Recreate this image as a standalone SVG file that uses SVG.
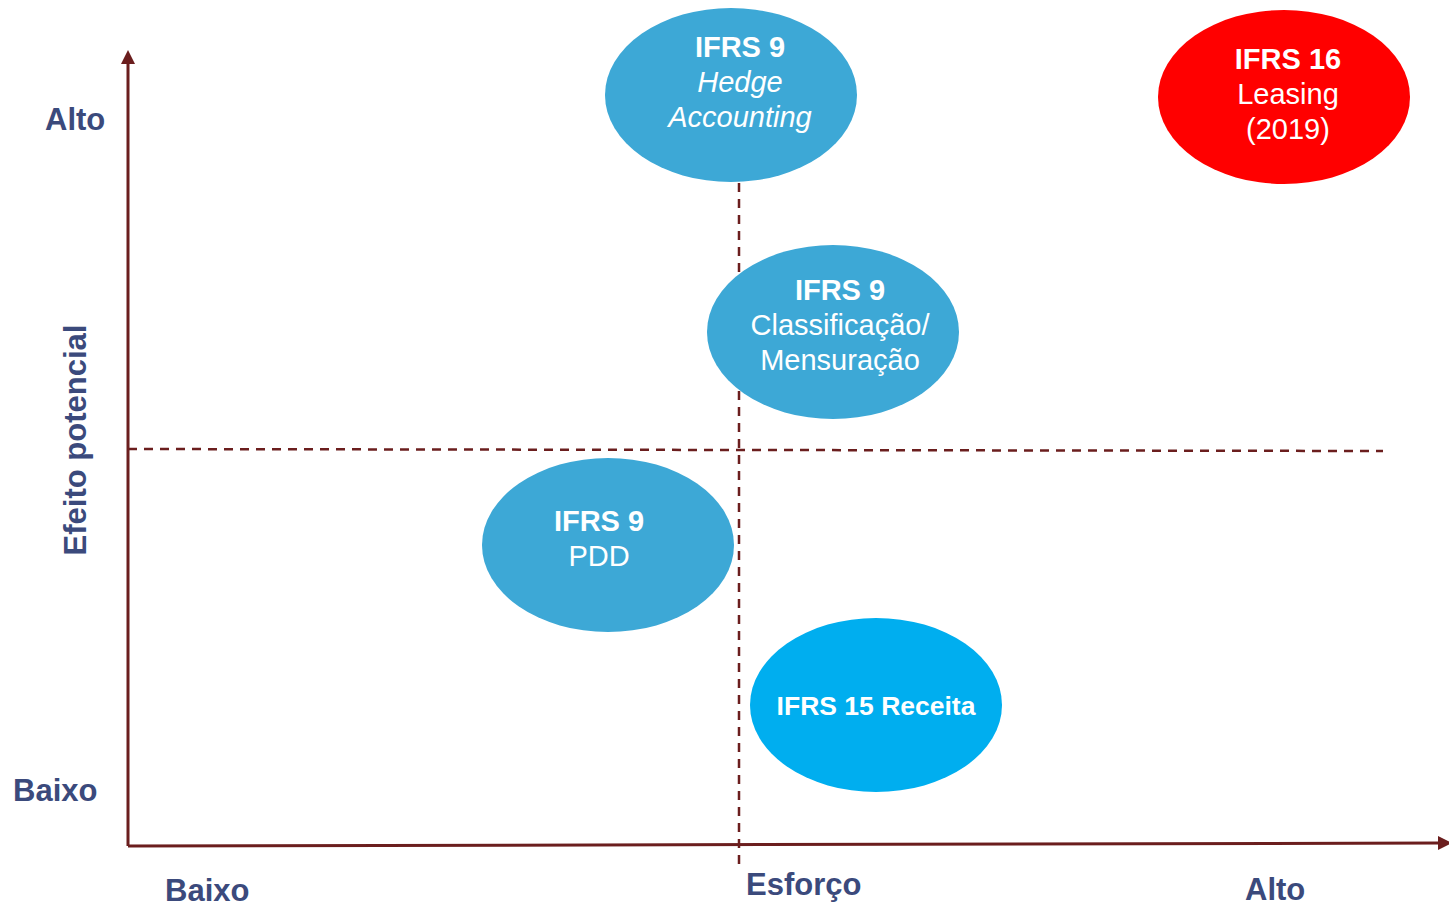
<svg xmlns="http://www.w3.org/2000/svg" width="1449" height="907" viewBox="0 0 1449 907">
<defs>
<style>
.ax{fill:#3B4A7C;font-family:"Liberation Sans",Arial,sans-serif;font-weight:bold;font-size:31px}
.t{fill:#fff;font-family:"Liberation Sans",Arial,sans-serif;font-size:29px;text-anchor:middle}
.b{font-weight:bold}
.i{font-style:italic}
.axis{stroke:#6B1E1E;stroke-width:3;fill:none}
.dash{stroke:#6B1E1E;stroke-width:2.5;stroke-dasharray:9,7;fill:none}
.blue{fill:#3DA8D6}
</style>
<marker id="arrUp" markerWidth="16" markerHeight="16" refX="2" refY="8" orient="auto" markerUnits="userSpaceOnUse">
<path d="M0,1 L14,8 L0,15 z" fill="#6B1E1E"/>
</marker>
</defs>
<rect width="1449" height="907" fill="#fff"/>
<g id="connectors">
<line class="dash" x1="739" y1="183" x2="739" y2="866"/>
<line class="dash" x1="128" y1="449" x2="1383" y2="451"/>
<line class="axis" x1="128" y1="846" x2="128" y2="62" marker-end="url(#arrUp)"/>
<line class="axis" x1="128" y1="846" x2="1440" y2="843" marker-end="url(#arrUp)"/>
</g>
<g id="labels">
<text class="ax" x="45" y="130">Alto</text>
<text class="ax" x="13" y="801">Baixo</text>
<text class="ax" x="165" y="901">Baixo</text>
<text class="ax" x="746" y="895">Esforço</text>
<text class="ax" x="1245" y="900">Alto</text>
<text class="ax" transform="translate(86,440) rotate(-90)" text-anchor="middle">Efeito potencial</text>
</g>
<g id="n-hedge">
<ellipse class="blue" cx="731" cy="95" rx="126" ry="87"/>
<text class="t b" x="740" y="57">IFRS 9</text>
<text class="t i" x="740" y="92">Hedge</text>
<text class="t i" x="740" y="127">Accounting</text>
</g>
<g id="n-ifrs16">
<ellipse cx="1284" cy="97" rx="126" ry="87" fill="#FF0000"/>
<text class="t b" x="1288" y="69">IFRS 16</text>
<text class="t" x="1288" y="104">Leasing</text>
<text class="t" x="1288" y="139">(2019)</text>
</g>
<g id="n-class">
<ellipse class="blue" cx="833" cy="332" rx="126" ry="87"/>
<text class="t b" x="840" y="300">IFRS 9</text>
<text class="t" x="840" y="335">Classificação/</text>
<text class="t" x="840" y="370">Mensuração</text>
</g>
<g id="n-pdd">
<ellipse class="blue" cx="608" cy="545" rx="126" ry="87"/>
<text class="t b" x="599" y="531">IFRS 9</text>
<text class="t" x="599" y="566">PDD</text>
</g>
<g id="n-ifrs15">
<ellipse cx="876" cy="705" rx="126" ry="87" fill="#00AEEF"/>
<text class="t b" x="876" y="715" style="font-size:26.5px">IFRS 15 Receita</text>
</g>
</svg>
